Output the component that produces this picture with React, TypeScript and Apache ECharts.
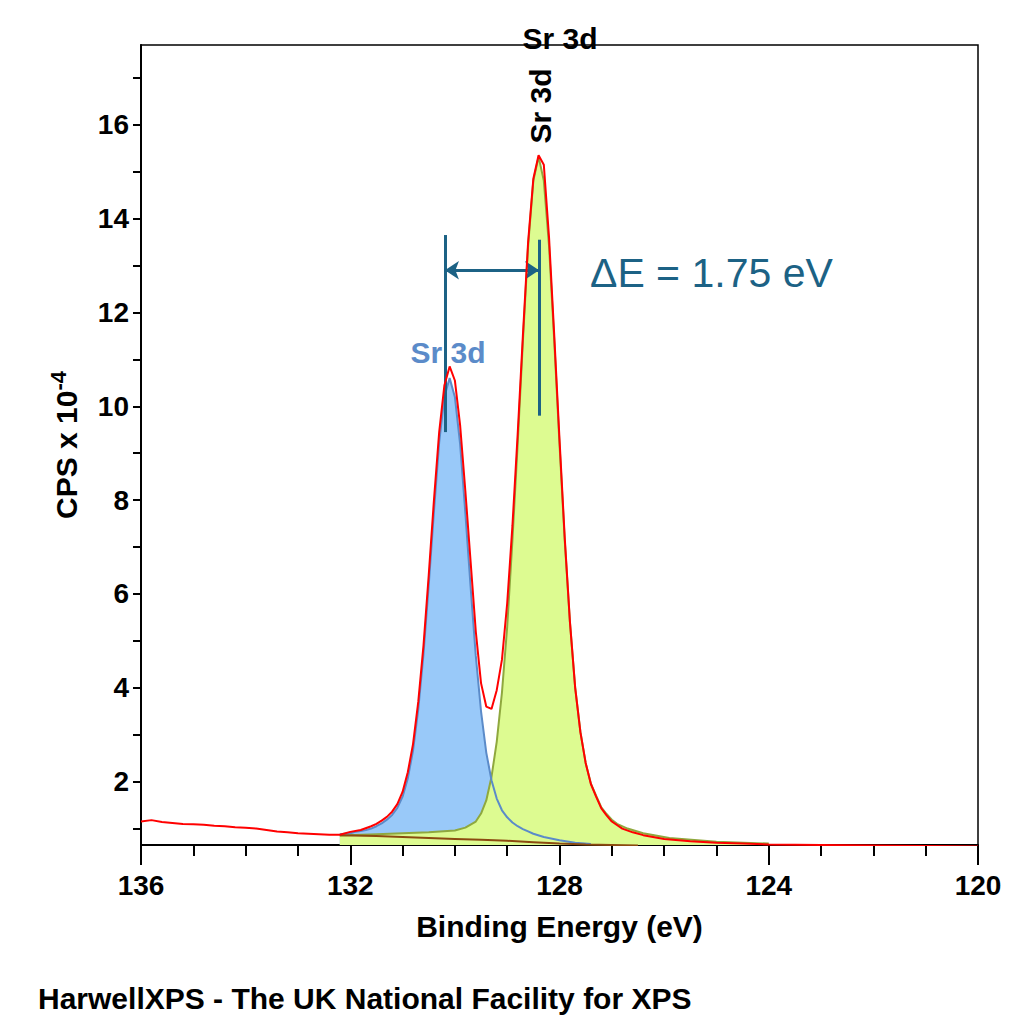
import { useEffect, useRef } from "react";
import * as echarts from "echarts";

// binding energy (eV), cps x 1e-4
const measured: Array<[number, number]> = [
  [136.0, 1.15], [135.8, 1.18], [135.6, 1.14], [135.4, 1.12], [135.2, 1.1], [135.0, 1.09],
  [134.8, 1.08], [134.6, 1.06], [134.4, 1.05], [134.2, 1.03], [134.0, 1.02], [133.8, 1.0],
  [133.6, 0.97], [133.4, 0.94], [133.2, 0.92], [133.0, 0.9], [132.8, 0.89], [132.6, 0.88],
  [132.4, 0.87], [132.2, 0.87], [132.0, 0.93], [131.8, 0.97], [131.6, 1.05], [131.5, 1.1],
  [131.4, 1.17], [131.3, 1.25], [131.2, 1.36], [131.1, 1.52], [131.0, 1.78], [130.9, 2.2],
  [130.8, 2.8], [130.7, 3.7], [130.6, 4.9], [130.5, 6.4], [130.4, 8.0], [130.3, 9.45],
  [130.2, 10.45], [130.1, 10.85], [130.0, 10.55], [129.9, 9.6], [129.8, 8.2], [129.7, 6.7],
  [129.6, 5.2], [129.5, 4.1], [129.4, 3.6], [129.3, 3.55], [129.2, 3.95], [129.1, 4.6],
  [129.0, 5.8], [128.9, 7.45], [128.8, 9.4], [128.7, 11.5], [128.6, 13.5], [128.5, 14.85],
  [128.4, 15.35], [128.3, 15.15], [128.2, 13.6], [128.1, 11.5], [128.0, 9.3], [127.9, 7.2],
  [127.8, 5.4], [127.7, 4.0], [127.6, 3.05], [127.5, 2.4], [127.4, 1.95], [127.3, 1.68],
  [127.2, 1.43], [127.1, 1.28], [127.0, 1.15], [126.8, 1.0], [126.6, 0.92], [126.4, 0.86],
  [126.0, 0.78], [125.5, 0.73], [125.0, 0.7], [124.5, 0.68], [124.0, 0.66], [123.0, 0.65],
  [122.0, 0.64], [121.0, 0.63], [120.0, 0.62],
];

const peakA: Array<[number, number]> = [
  [132.2, 0.88], [132.1, 0.89], [132.0, 0.9], [131.9, 0.93], [131.8, 0.95], [131.7, 0.97],
  [131.6, 1.0], [131.5, 1.05], [131.4, 1.11], [131.3, 1.19], [131.2, 1.29], [131.1, 1.44],
  [131.0, 1.68], [130.9, 2.07], [130.8, 2.66], [130.7, 3.54], [130.6, 4.72], [130.5, 6.19],
  [130.4, 7.76], [130.3, 9.23], [130.2, 10.21], [130.1, 10.6], [130.0, 10.2], [129.9, 9.2],
  [129.8, 7.73], [129.7, 6.16], [129.6, 4.68], [129.5, 3.5], [129.4, 2.62], [129.3, 2.03],
  [129.2, 1.64], [129.1, 1.39], [129.0, 1.24], [128.9, 1.13], [128.8, 1.05], [128.7, 0.99],
  [128.6, 0.94], [128.5, 0.89], [128.3, 0.82], [128.0, 0.75], [127.7, 0.7], [127.4, 0.67],
];

const peakB: Array<[number, number]> = [
  [132.2, 0.85], [131.5, 0.88], [131.0, 0.9], [130.5, 0.92], [130.0, 0.96], [129.8, 1.02],
  [129.6, 1.15], [129.5, 1.32], [129.4, 1.6], [129.3, 2.1], [129.2, 2.85], [129.1, 3.9],
  [129.0, 5.3], [128.9, 7.14], [128.8, 9.19], [128.7, 11.38], [128.6, 13.42], [128.5, 14.81],
  [128.4, 15.32], [128.3, 14.81], [128.2, 13.42], [128.1, 11.38], [128.0, 9.19], [127.9, 7.14],
  [127.8, 5.39], [127.7, 4.0], [127.6, 3.06], [127.5, 2.4], [127.4, 1.96], [127.3, 1.7],
  [127.2, 1.45], [127.1, 1.31], [127.0, 1.19], [126.9, 1.1], [126.7, 1.0], [126.4, 0.9],
  [125.9, 0.8], [125.0, 0.72], [124.0, 0.68],
];

const background: Array<[number, number]> = [
  [132.2, 0.86], [131.5, 0.84], [131.0, 0.82], [130.5, 0.8], [130.0, 0.78], [129.5, 0.76],
  [129.0, 0.74], [128.5, 0.71], [128.0, 0.68], [127.5, 0.66], [127.0, 0.65], [126.5, 0.64],
];

const yTickValues = [1, 2, 3, 4, 5, 6, 7, 8, 9, 10, 11, 12, 13, 14, 15, 16, 17];
const yLabelValues = [2, 4, 6, 8, 10, 12, 14, 16];

const FONT = "Liberation Sans, Arial, sans-serif";
const MARK = "#1c6285";

export default function App() {
  const ref = useRef<HTMLDivElement | null>(null);

  useEffect(() => {
    document.body.style.margin = "0";
    const el = ref.current;
    if (el === null) return;
    const chart = echarts.init(el, null, { renderer: "svg" });

    const axisLabel = { color: "#000", fontFamily: FONT, fontSize: 28, fontWeight: "bold" };

    chart.setOption({
      animation: false,
      grid: {
        left: 141, right: 46, top: 45, bottom: 179,
        show: true, borderColor: "#000", borderWidth: 1.5,
      },
      xAxis: {
        type: "value",
        inverse: true,
        min: 120,
        max: 136,
        interval: 4,
        name: "Binding Energy (eV)",
        nameLocation: "middle",
        nameGap: 66,
        nameTextStyle: { color: "#000", fontFamily: FONT, fontSize: 30, fontWeight: "bold" },
        axisLine: { lineStyle: { color: "#000", width: 2 } },
        axisTick: { length: 20, lineStyle: { color: "#000", width: 2 } },
        minorTick: { show: true, splitNumber: 4, length: 11, lineStyle: { color: "#000", width: 2 } },
        axisLabel: { ...axisLabel, margin: 26 },
        splitLine: { show: false },
      },
      yAxis: {
        type: "value",
        min: 0.65,
        max: 17.7,
        name: "{a|CPS x 10}{b|-4}",
        nameLocation: "middle",
        nameRotate: 90,
        nameGap: 56,
        nameTextStyle: {
          rich: {
            a: { color: "#000", fontFamily: FONT, fontSize: 30, fontWeight: "bold" },
            b: { color: "#000", fontFamily: FONT, fontSize: 22, fontWeight: "bold", padding: [0, 0, 16, 0] },
          },
        },
        axisLine: { lineStyle: { color: "#000", width: 2 } },
        axisTick: { length: 8, customValues: yTickValues, lineStyle: { color: "#000", width: 2 } },
        axisLabel: { ...axisLabel, customValues: yLabelValues, margin: 12 },
        splitLine: { show: false },
      },
      series: [
        {
          type: "line", data: peakA, showSymbol: false, z: 1,
          lineStyle: { width: 0 },
          areaStyle: { color: "#99c9f9", opacity: 1, origin: "start" },
        },
        {
          type: "line", data: peakB, showSymbol: false, z: 2,
          lineStyle: { color: "#8fa83e", width: 2 },
          areaStyle: { color: "#ddfb91", opacity: 1, origin: "start" },
        },
        {
          type: "line", data: peakA, showSymbol: false, z: 3,
          lineStyle: { color: "#5b8bc9", width: 2 },
        },
        {
          type: "line", data: background, showSymbol: false, z: 4,
          lineStyle: { color: "#8b4a10", width: 2 },
        },
        {
          type: "line", data: measured, showSymbol: false, z: 5,
          lineStyle: { color: "#ff0000", width: 2 },
          markLine: {
            silent: true,
            symbol: "none",
            label: { show: false },
            lineStyle: { color: MARK, width: 3, type: "solid" },
            data: [
              [{ coord: [130.19, 9.45] }, { coord: [130.19, 13.65] }],
              [{ coord: [128.39, 9.8] }, { coord: [128.39, 13.55] }],
              [
                { coord: [130.19, 12.9], symbol: "arrow", symbolSize: 14 },
                { coord: [128.39, 12.9], symbol: "arrow", symbolSize: 14 },
              ],
            ],
          },
        },
      ],
      graphic: [
        {
          type: "text", x: 560, y: 38,
          style: { text: "Sr 3d", fill: "#000", font: `bold 30px ${FONT}`, textAlign: "center", textVerticalAlign: "middle" },
        },
        {
          type: "text", x: 540, y: 106, rotation: Math.PI / 2,
          style: { text: "Sr 3d", fill: "#000", font: `bold 30px ${FONT}`, textAlign: "center", textVerticalAlign: "middle" },
        },
        {
          type: "text", x: 448, y: 352,
          style: { text: "Sr 3d", fill: "#5b8bc9", font: `bold 30px ${FONT}`, textAlign: "center", textVerticalAlign: "middle" },
        },
        {
          type: "text", x: 590, y: 273,
          style: { text: "ΔE = 1.75 eV", fill: MARK, font: `41px ${FONT}`, textAlign: "left", textVerticalAlign: "middle" },
        },
        {
          type: "text", x: 38, y: 998,
          style: { text: "HarwellXPS - The UK National Facility for XPS", fill: "#000", font: `bold 30px ${FONT}`, textAlign: "left", textVerticalAlign: "middle" },
        },
      ],
    });

    return () => chart.dispose();
  }, []);

  return <div ref={ref} style={{ width: 1024, height: 1024 }} />;
}
